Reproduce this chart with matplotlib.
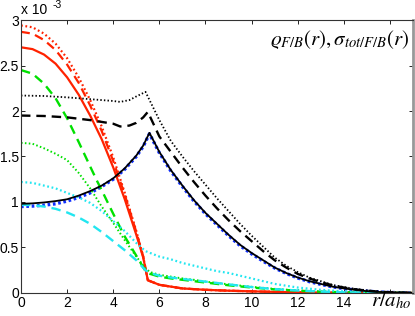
import numpy as np
import matplotlib
matplotlib.use("Agg")
import matplotlib.pyplot as plt

plt.rcParams['font.family'] = ['Liberation Sans', 'DejaVu Sans']
plt.rcParams['mathtext.fontset'] = 'stix'

# Dichten in Einheiten von 1e-3, abgelesen aus dem Bild
# rote Kurven (Kondensat, Thomas-Fermi-artig)
r_red = [0, 0.5, 1, 1.5, 2, 2.5, 3, 3.5, 4, 4.5, 5, 5.3, 5.5, 6, 6.5, 7, 8, 9, 10, 11, 12, 13, 14, 15, 17]
red_solid = [2.70, 2.68, 2.62, 2.52, 2.37, 2.18, 1.95, 1.69, 1.38, 1.03, 0.64, 0.39, 0.14, 0.09, 0.07, 0.05,
             0.035, 0.025, 0.018, 0.012, 0.008, 0.005, 0.003, 0.002, 0.0]
red_dashed = [2.87, 2.85, 2.78, 2.67, 2.51, 2.31, 2.06, 1.78, 1.45, 1.08, 0.67, 0.40, 0.14, 0.09, 0.07, 0.05,
              0.035, 0.025, 0.018, 0.012, 0.008, 0.005, 0.003, 0.002, 0.0]
red_dotted = [2.94, 2.92, 2.85, 2.74, 2.58, 2.37, 2.12, 1.83, 1.49, 1.10, 0.68, 0.40, 0.14, 0.09, 0.07, 0.05,
              0.035, 0.025, 0.018, 0.012, 0.008, 0.005, 0.003, 0.002, 0.0]

# gruene Kurven
r_green = [0, 0.5, 1, 1.5, 2, 2.5, 3, 3.3, 3.5, 4, 4.5, 5, 5.4, 5.6, 6, 6.5, 7, 7.5, 8, 9, 10, 11, 12, 13, 14, 15, 17]
green_dashed = [2.45, 2.41, 2.30, 2.14, 1.92, 1.66, 1.39, 1.23, 1.13, 0.87, 0.62, 0.41, 0.24, 0.21, 0.18, 0.16,
                0.145, 0.13, 0.115, 0.085, 0.06, 0.04, 0.025, 0.014, 0.008, 0.004, 0.0]
green_dotted = [1.65, 1.64, 1.59, 1.53, 1.46, 1.32, 1.15, 1.03, 0.95, 0.77, 0.58, 0.40, 0.27, 0.23, 0.20, 0.18,
                0.16, 0.145, 0.125, 0.095, 0.068, 0.045, 0.028, 0.016, 0.008, 0.004, 0.0]

# cyan Kurven
r_cyan = [0, 0.5, 1, 1.5, 2, 2.5, 3, 3.5, 4, 4.5, 5, 5.4, 5.6, 6, 6.5, 7, 7.5, 8, 8.5, 9, 9.5, 10, 10.5, 11,
          11.5, 12, 13, 14, 15, 16, 17]
cyan_dotted = [1.22, 1.21, 1.18, 1.15, 1.10, 1.05, 0.99, 0.90, 0.79, 0.68, 0.55, 0.46, 0.44, 0.40, 0.37, 0.33,
               0.30, 0.27, 0.24, 0.22, 0.19, 0.16, 0.13, 0.10, 0.08, 0.06, 0.035, 0.018, 0.008, 0.003, 0.0]
cyan_dashed = [0.97, 0.965, 0.95, 0.925, 0.885, 0.83, 0.76, 0.67, 0.57, 0.47, 0.36, 0.25, 0.22, 0.19, 0.17, 0.155,
               0.14, 0.125, 0.11, 0.095, 0.08, 0.065, 0.054, 0.043, 0.035, 0.027, 0.015, 0.008, 0.003, 0.001, 0.0]

# schwarze Kurven (thermische Wolke)
r_blk = [0, 0.5, 1, 1.5, 2, 2.5, 3, 3.5, 4, 4.5, 5, 5.3, 5.57, 6, 6.5, 7, 7.5, 8, 8.5, 9, 9.5, 10, 10.5, 11,
         11.5, 12, 12.5, 13, 13.5, 14, 14.5, 15, 15.5, 16, 16.5, 17]
black_solid = [0.98, 0.985, 0.995, 1.01, 1.03, 1.07, 1.12, 1.18, 1.26, 1.37, 1.51, 1.62, 1.76, 1.55, 1.35, 1.18,
               1.02, 0.88, 0.76, 0.64, 0.53, 0.44, 0.36, 0.28, 0.22, 0.17, 0.13, 0.10, 0.07, 0.05, 0.035, 0.02,
               0.012, 0.006, 0.003, 0.001]
blue_dotted = [0.95, 0.955, 0.965, 0.98, 1.01, 1.05, 1.10, 1.17, 1.25, 1.36, 1.50, 1.61, 1.75, 1.54, 1.34, 1.17,
               1.01, 0.87, 0.75, 0.63, 0.52, 0.43, 0.35, 0.275, 0.215, 0.165, 0.125, 0.095, 0.068, 0.048, 0.033,
               0.02, 0.012, 0.006, 0.003, 0.001]

r_bd = [0, 1, 2, 3, 3.5, 4, 4.3, 4.7, 5.0, 5.3, 5.5, 6, 6.5, 7, 7.5, 8, 8.5, 9, 9.5, 10, 10.5, 11, 11.5, 12,
        12.5, 13, 13.5, 14, 14.5, 15, 15.5, 16, 17]
black_dashed = [1.95, 1.945, 1.93, 1.90, 1.88, 1.86, 1.83, 1.84, 1.87, 1.93, 1.99, 1.72, 1.55, 1.38, 1.22, 1.07,
                0.93, 0.80, 0.68, 0.57, 0.46, 0.36, 0.28, 0.21, 0.16, 0.12, 0.085, 0.06, 0.04, 0.025, 0.015,
                0.008, 0.002]

r_bt = [0, 1, 2, 3, 4, 4.3, 4.7, 5.0, 5.4, 6, 6.5, 7, 7.5, 8, 8.5, 9, 9.5, 10, 10.5, 11, 11.5, 12, 12.5, 13,
        13.5, 14, 14.5, 15, 15.5, 16, 17]
black_dotted = [2.17, 2.165, 2.15, 2.13, 2.11, 2.10, 2.12, 2.16, 2.21, 1.90, 1.67, 1.50, 1.34, 1.19, 1.04, 0.90,
                0.76, 0.63, 0.51, 0.39, 0.30, 0.23, 0.17, 0.13, 0.09, 0.065, 0.045, 0.03, 0.017, 0.009, 0.002]

RED = '#ff2200'
GREEN = '#00e000'
CYAN = '#22e6f0'
DOT = (0.8, 1.2)
DASH = (4, 2.5)

fig = plt.figure(figsize=(4.15, 3.16), dpi=100)
ax = fig.add_axes([0.0506, 0.0728, 0.9446, 0.8639])

ax.plot(r_blk, blue_dotted, color='#1030ff', linestyle=':', linewidth=2.4, dashes=(0.8, 0.8))
ax.plot(r_red, red_dotted, color=RED, linestyle=':', linewidth=1.6, dashes=DOT)
ax.plot(r_red, red_dashed, color=RED, linestyle='--', linewidth=1.6, dashes=DASH)
ax.plot(r_red, red_solid, color=RED, linestyle='-', linewidth=1.6)
ax.plot(r_green, green_dotted, color=GREEN, linestyle=':', linewidth=1.4, dashes=DOT)
ax.plot(r_green, green_dashed, color=GREEN, linestyle='--', linewidth=1.7, dashes=DASH)
ax.plot(r_cyan, cyan_dotted, color=CYAN, linestyle=':', linewidth=1.6, dashes=DOT)
ax.plot(r_cyan, cyan_dashed, color=CYAN, linestyle='--', linewidth=1.7, dashes=DASH)
ax.plot(r_bt, black_dotted, color='black', linestyle=':', linewidth=1.3, dashes=DOT)
ax.plot(r_bd, black_dashed, color='black', linestyle='--', linewidth=1.7, dashes=DASH)
ax.plot(r_blk, black_solid, color='black', linestyle='-', linewidth=1.3)

ax.set_xlim(0, 17)
ax.set_ylim(0, 3)
ax.set_xticks([0, 2, 4, 6, 8, 10, 12, 14, 16])
ax.set_xticklabels(['0', '2', '4', '6', '8', '10', '12', '14', ''])
ax.set_yticks([0, 0.5, 1, 1.5, 2, 2.5, 3])
ax.set_yticklabels(['0', '0.5', '1', '1.5', '2', '2.5', '3'])
ax.tick_params(direction='in', length=3, width=0.6, labelsize=10, top=True, right=True, pad=2)
ax.tick_params(axis='y', pad=1.5)
for sp in ax.spines.values():
    sp.set_linewidth(0.8)
    sp.set_color('#333333')
ax.spines['right'].set_color('#999999')
ax.spines['right'].set_linewidth(2)

ax.text(0.0, 1.01, 'x 10', transform=ax.transAxes, fontsize=10, ha='left', va='bottom')
ax.text(0.08, 1.035, '-3', transform=ax.transAxes, fontsize=7.5, ha='left', va='bottom')
ax.text(0.99, 0.93, r'$\varrho_{F/B}(r), \sigma_{tot/F/B}(r)$', transform=ax.transAxes,
        fontsize=15, ha='right', va='center')
ax.text(0.995, -0.028, r'$r/a_{ho}$', transform=ax.transAxes, fontsize=15, ha='right', va='center')

fig.savefig('out.png', dpi=100)
